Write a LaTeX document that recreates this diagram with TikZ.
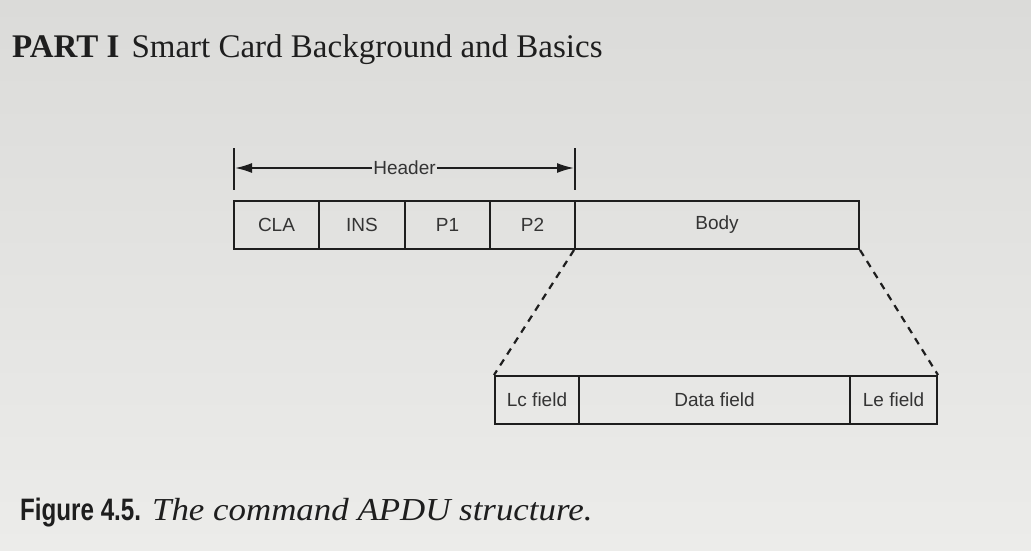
\documentclass[tikz,border=0pt]{standalone}
\usepackage{fontspec}
\setmainfont{Liberation Serif}
\setsansfont{Liberation Sans}
\usetikzlibrary{arrows.meta}
\definecolor{papertop}{RGB}{219,219,217}
\definecolor{paperbot}{RGB}{236,236,234}
\definecolor{ink}{RGB}{30,30,30}
\definecolor{txt}{RGB}{52,52,52}
\tikzset{
  field/.style={draw=ink, line width=2pt, minimum height=48pt, inner sep=0pt,
    font=\sffamily\fontsize{19}{21}\selectfont, text=txt},
  tick/.style={draw=ink, line width=2pt},
  dimline/.style={draw=ink, line width=1.8pt},
  zoomline/.style={draw=ink, line width=2.2pt, dash pattern=on 7pt off 6pt},
}
\begin{document}
\begin{tikzpicture}[x=1pt,y=-1pt]
\shade[top color=papertop, bottom color=paperbot] (0,0) rectangle (1031,550);
\useasboundingbox (0,0) rectangle (1031,550);
% title
\node[anchor=base west, inner sep=0pt, text=ink, font=\fontsize{33}{36}\selectfont] (title) at (12,57)
  {\textbf{PART I}\hspace{12pt}Smart Card Background and Basics};
% header dimension
\coordinate (ht1) at (234,148);
\coordinate (hb1) at (234,190);
\coordinate (ht2) at (575,148);
\coordinate (hb2) at (575,190);
\draw[tick] (ht1) -- (hb1);
\draw[tick] (ht2) -- (hb2);
\coordinate (ha1) at (235,168);
\coordinate (ha2) at (574,168);
\node[inner xsep=1pt, inner ysep=2pt, text=txt, font=\sffamily\fontsize{19}{21}\selectfont] (header) at (404.5,168) {Header};
\draw[dimline, -{Latex[length=17pt,width=10pt]}] (header.west) -- (ha1);
\draw[dimline, -{Latex[length=17pt,width=10pt]}] (header.east) -- (ha2);
% top row
\node[field, minimum width=85pt] (cla) at (276.5,225) {CLA};
\node[field, minimum width=86pt] (ins) at (362,225) {INS};
\node[field, minimum width=85pt] (p1) at (447.5,225) {P1};
\node[field, minimum width=85pt] (p2) at (532.5,225) {P2};
\node[field, minimum width=284pt] (body) at (717,225) {Body};
% bottom row
\node[field, minimum width=84pt] (lc) at (537,400) {Lc field};
\node[field, minimum width=271pt] (data) at (714.5,400) {Data field};
\node[field, minimum width=87pt] (le) at (893.5,400) {Le field};
% zoom lines
\draw[zoomline] (body.south west) -- (lc.north west);
\draw[zoomline] (body.south east) -- (le.north east);
% caption
\node[anchor=base west, inner sep=0pt, text=ink] (caption) at (20,520)
  {\scalebox{0.78}[1]{\sffamily\bfseries\fontsize{31}{34}\selectfont Figure 4.5.}\hspace{11pt}\scalebox{1.09}[1]{\itshape\fontsize{32}{34}\selectfont The command APDU structure.}};
\end{tikzpicture}
\end{document}
